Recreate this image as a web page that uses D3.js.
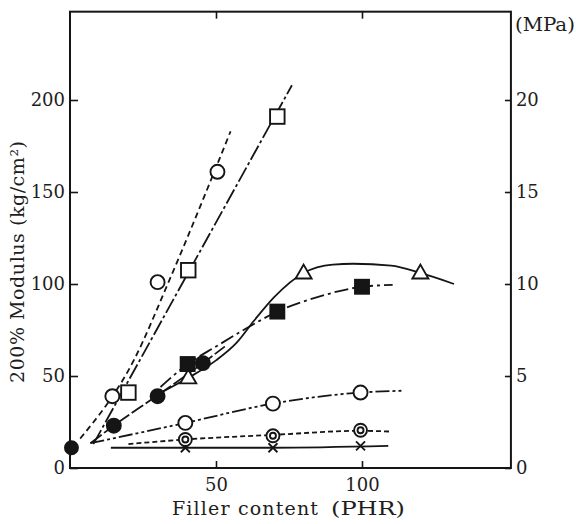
<!DOCTYPE html>
<html>
<head>
<meta charset="utf-8">
<script src="https://cdn.jsdelivr.net/npm/d3@7"></script>
<style>
  html, body { margin: 0; padding: 0; background: #fff; }
  text { font-family: "DejaVu Serif", "Liberation Serif", serif; fill: #1e1e1e; }
</style>
</head>
<body>
<svg id="chart" width="576" height="524"></svg>
<script>
// Axis ticks
const xTicks = [50, 100];
const yTicks = [0, 50, 100, 150, 200];      // kg/cm²
const mpaTicks = [0, 5, 10, 15, 20];        // MPa

// Unfilled rubber (gum) value
const gumPoint = [[0.5, 11]];

// Measured points for each filler, [PHR, 200% modulus kg/cm²]
const openCircleHigh = [[14.5, 39], [30, 101], [50.5, 161]];
const openSquare     = [[20, 41], [40.5, 107.5], [71, 191]];
const filledCircle   = [[15, 23], [30, 39], [45.5, 57]];
const filledSquare   = [[40.3, 56.5], [71, 85], [100, 98.5]];
const triangle       = [[40.5, 49], [80, 106], [120, 106]];
const openCircleLow  = [[39.5, 24.5], [69.5, 35], [99.5, 41]];
const doubleCircle   = [[39.5, 15.5], [69.5, 17.5], [99.5, 20.5]];
const crossMark      = [[39.5, 11], [69.5, 11], [99.5, 12]];

// Fitted curves drawn through each series
const openCircleHighFit = [[3.5, 16], [22, 59], [34, 102], [55, 183]];
const openSquareFit     = [[8, 13], [76, 208]];
const filledCircleFit   = [[7, 13.5], [15, 23], [30, 39.5], [45.5, 57], [53, 66]];
const filledSquareFit   = [[31, 44], [40.3, 56.5], [50, 66], [60, 75.5], [71, 85], [85, 93], [100, 98.5], [110.5, 99.5]];
const triangleFit       = [[30, 40], [40.5, 49], [50, 58.5], [57, 68], [63, 80], [70, 93], [80, 106], [90, 110.5], [97, 111], [110, 110], [120, 106], [131.5, 100]];
const openCircleLowFit  = [[7, 13.5], [39.5, 24.5], [69.5, 35], [99.5, 41], [114, 42]];
const doubleCircleFit   = [[20, 13], [39.5, 15.5], [69.5, 18], [99.5, 20.2], [110, 19.8]];
const crossFit          = [[14, 11], [69.5, 11], [109, 12]];

const svg = d3.select("#chart");
const ink = "#151515";

const x = d3.scaleLinear().domain([0, 151]).range([70, 70 + 151 * 2.92]);
const y = d3.scaleLinear().domain([0, 248]).range([468, 468 - 248 * 1.84]);
const yMPa = d3.scaleLinear().domain([0, 24.8]).range(y.range());

const [x0, x1] = x.range();
const [yB, yT] = y.range();

// Frame
svg.append("rect")
  .attr("x", x0).attr("y", yT)
  .attr("width", x1 - x0).attr("height", yB - yT)
  .attr("fill", "none").attr("stroke", ink).attr("stroke-width", 2);

function styleAxis(g, size) {
  g.select(".domain").remove();
  g.selectAll(".tick line").attr("stroke", ink).attr("stroke-width", 1.6);
  g.selectAll(".tick text").attr("font-size", size).attr("fill", "#1e1e1e")
    .attr("font-family", "DejaVu Serif, Liberation Serif, serif");
}

svg.append("g").attr("transform", `translate(${x0},0)`)
  .call(d3.axisLeft(y).tickValues(yTicks).tickSize(-8).tickPadding(5))
  .call(g => styleAxis(g, 18));

svg.append("g").attr("transform", `translate(${x1},0)`)
  .call(d3.axisRight(yMPa).tickValues(mpaTicks).tickSize(-6).tickPadding(5))
  .call(g => styleAxis(g, 18));

svg.append("g").attr("transform", `translate(0,${yB})`)
  .call(d3.axisBottom(x).tickValues(xTicks).tickSize(-7).tickPadding(10))
  .call(g => styleAxis(g, 18));

svg.append("g").attr("transform", `translate(0,${yT})`)
  .call(d3.axisTop(x).tickValues(xTicks).tickSize(-7).tickFormat(() => ""))
  .call(g => styleAxis(g, 18));

// Axis titles
svg.append("text").attr("x", x1 + 4).attr("y", 31).attr("font-size", 18)
  .attr("textLength", 60).attr("lengthAdjust", "spacingAndGlyphs").text("(MPa)");

svg.append("text").attr("x", 172).attr("y", 515).attr("font-size", 19)
  .attr("textLength", 146).attr("lengthAdjust", "spacing").text("Filler content");
svg.append("text").attr("x", 331).attr("y", 515).attr("font-size", 19)
  .attr("textLength", 74).attr("lengthAdjust", "spacingAndGlyphs").text("(PHR)");

svg.append("text")
  .attr("transform", "translate(24,262) rotate(-90)")
  .attr("text-anchor", "middle").attr("font-size", 19)
  .attr("textLength", 242).attr("lengthAdjust", "spacing")
  .text("200% Modulus (kg/cm²)");

// Fitted lines
const line = d3.line().x(d => x(d[0])).y(d => y(d[1])).curve(d3.curveMonotoneX);
const fits = [
  { data: openCircleHighFit, dash: "6,4" },
  { data: openSquareFit,     dash: "16,3,3,3" },
  { data: filledCircleFit,   dash: "14,3" },
  { data: filledSquareFit,   dash: "14,4,3,4" },
  { data: triangleFit,       dash: null },
  { data: openCircleLowFit,  dash: "14,3,3,3,3,3" },
  { data: doubleCircleFit,   dash: "5,3" },
  { data: crossFit,          dash: null }
];
svg.append("g").selectAll("path").data(fits).join("path")
  .attr("d", d => line(d.data))
  .attr("fill", "none").attr("stroke", ink).attr("stroke-width", 1.8)
  .attr("stroke-dasharray", d => d.dash);

// Markers
const mk = svg.append("g");
function circles(data, r, fill) {
  mk.append("g").selectAll("circle").data(data).join("circle")
    .attr("cx", d => x(d[0])).attr("cy", d => y(d[1])).attr("r", r)
    .attr("fill", fill).attr("stroke", ink).attr("stroke-width", 1.9);
}
function squares(data, s, fill) {
  mk.append("g").selectAll("rect").data(data).join("rect")
    .attr("x", d => x(d[0]) - s / 2).attr("y", d => y(d[1]) - s / 2)
    .attr("width", s).attr("height", s)
    .attr("fill", fill).attr("stroke", ink).attr("stroke-width", 1.9);
}
function triangles(data, s) {
  const h = s * 0.866;
  mk.append("g").selectAll("path").data(data).join("path")
    .attr("d", d => {
      const cx = x(d[0]), cy = y(d[1]);
      return `M${cx},${cy - h * 0.6}L${cx + s / 2},${cy + h * 0.4}L${cx - s / 2},${cy + h * 0.4}Z`;
    })
    .attr("fill", "#fff").attr("stroke", ink).attr("stroke-width", 1.9);
}
function crosses(data, s) {
  mk.append("g").selectAll("path").data(data).join("path")
    .attr("d", d => {
      const cx = x(d[0]), cy = y(d[1]), a = s / 2;
      return `M${cx - a},${cy - a}L${cx + a},${cy + a}M${cx + a},${cy - a}L${cx - a},${cy + a}`;
    })
    .attr("fill", "none").attr("stroke", ink).attr("stroke-width", 1.8);
}

crosses(crossMark, 9);
circles(doubleCircle, 6.5, "#fff");
circles(doubleCircle, 3, "none");
circles(openCircleLow, 7, "#fff");
triangles(triangle, 16);
squares(openSquare, 14.5, "#fff");
circles(openCircleHigh, 7, "#fff");
circles(filledCircle, 7, ink);
squares(filledSquare, 14, ink);
circles(gumPoint, 6.5, ink);
</script>
</body>
</html>
